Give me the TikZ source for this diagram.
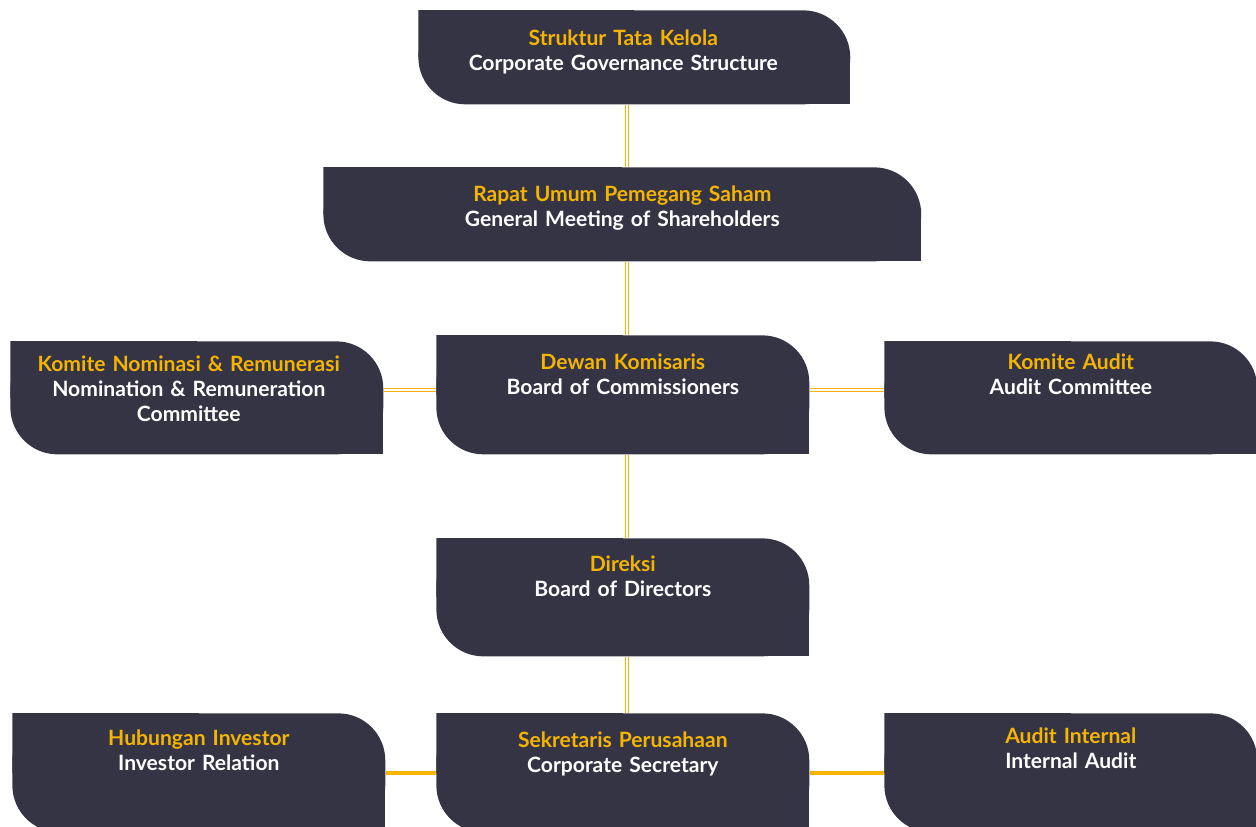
\documentclass[tikz,border=0pt]{standalone}
\usepackage{fontspec}
\setmainfont{Lato}
\usepackage{tikz}
\usetikzlibrary{positioning}
\usetikzlibrary{calc}
\definecolor{govdark}{HTML}{353445}
\definecolor{govyellow}{HTML}{F4B400}
% pad a centred line on its right, so it sits left of the middle
\newcommand{\padright}[1]{\kern#1}

\begin{document}
\begin{tikzpicture}[x=0.02cm, y=-0.02cm,
			govbox/.style n args = {3}{
				anchor=north west, inner sep=0pt, align=center,
				minimum width=#1, text width=#1,
				text height=#2, text depth=#3,
				text=white, font=\fontsize{12}{14.2}\selectfont\bfseries,
				path picture={
					\fill[govdark, rounded corners=0.94cm] (path picture bounding box.south west) rectangle (path picture bounding box.north east);
					\fill[govdark] (path picture bounding box.north west) rectangle (path picture bounding box.center);
					\fill[govdark] (path picture bounding box.south east) rectangle (path picture bounding box.center);
				}
			},
			dline/.style = {draw=govyellow, line width=0.8pt, double=white, double distance=1pt},
			sline/.style = {draw=govyellow, line width=2.8pt}]
			\useasboundingbox (0,0) rectangle (1256,826);
			\clip (0,0) rectangle (1256,826);
			\node (top) [govbox={8.64cm}{0.70cm}{1.18cm}] at (418,10) {{\color{govyellow}Struktur Tata Kelola}\padright{0.44cm}\\Corporate Governance Structure\padright{0.44cm}};
			\node (rups) [govbox={11.96cm}{0.68cm}{1.20cm}] at (323,167) {{\color{govyellow}Rapat Umum Pemegang Saham}\\General Meeting of Shareholders};
			\node (dk) [govbox={7.46cm}{0.68cm}{1.70cm}] at (436,335) {{\color{govyellow}Dewan Komisaris}\\Board of Commissioners};
			\node (kn) [govbox={7.46cm}{0.60cm}{1.66cm}] at (10,341) {{\color{govyellow}Komite Nominasi \& Remunerasi}\padright{0.32cm}\\Nomination \& Remuneration\padright{0.32cm}\\Committee\padright{0.32cm}};
			\node (ka) [govbox={7.46cm}{0.56cm}{1.70cm}] at (884,341) {{\color{govyellow}Komite Audit}\\Audit Committee};
			\node (dir) [govbox={7.46cm}{0.66cm}{1.70cm}] at (436,538) {{\color{govyellow}Direksi}\\Board of Directors};
			\node (hi) [govbox={7.46cm}{0.64cm}{1.74cm}] at (12,713) {{\color{govyellow}Hubungan Investor}\\Investor Relation};
			\node (sp) [govbox={7.46cm}{0.68cm}{1.70cm}] at (436,713) {{\color{govyellow}Sekretaris Perusahaan}\\Corporate Secretary};
			\node (ai) [govbox={7.46cm}{0.60cm}{1.78cm}] at (884,713) {{\color{govyellow}Audit Internal}\\Internal Audit};
			% spine and rows of the connectors
			\coordinate (spine) at (627,0);
			\coordinate (midrow) at (0,390);
			\coordinate (lowrow) at (0,773);
			\draw [dline] (top.south -| spine) -- (rups.north -| spine);
			\draw [dline] (rups.south -| spine) -- (dk.north -| spine);
			\draw [dline] (dk.south -| spine) -- (dir.north -| spine);
			\draw [dline] (dir.south -| spine) -- (sp.north -| spine);
			\draw [dline] (kn.east |- midrow) -- (dk.west |- midrow);
			\draw [dline] (dk.east |- midrow) -- (ka.west |- midrow);
			\draw [sline] (hi.east |- lowrow) -- (sp.west |- lowrow);
			\draw [sline] (sp.east |- lowrow) -- (ai.west |- lowrow);
		\end{tikzpicture}
\end{document}
